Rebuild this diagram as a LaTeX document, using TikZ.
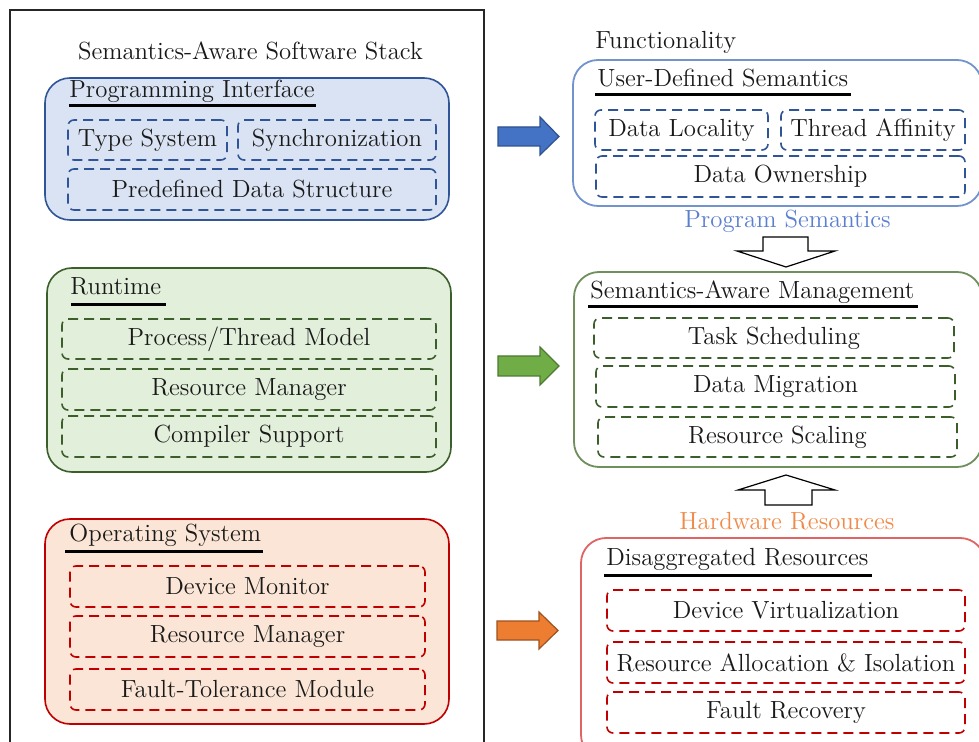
\documentclass[tikz,border=0pt]{standalone}
\definecolor{lbfill}{HTML}{DAE3F3}
\definecolor{lbdraw}{HTML}{2F5597}
\definecolor{lgfill}{HTML}{E2EFDA}
\definecolor{lgdraw}{HTML}{3B5E2B}
\definecolor{lrfill}{HTML}{FBE5D6}
\definecolor{lrdraw}{HTML}{C00000}
\definecolor{rbdraw}{HTML}{7393CC}
\definecolor{rgdraw}{HTML}{6F8F5C}
\definecolor{rrdraw}{HTML}{E06464}
\definecolor{semblue}{HTML}{5A7FD0}
\definecolor{hworange}{HTML}{F08A48}
\definecolor{arblue}{HTML}{4472C4}
\definecolor{arblueD}{HTML}{2F528F}
\definecolor{argreen}{HTML}{70AD47}
\definecolor{argreenD}{HTML}{4E7A31}
\definecolor{arorange}{HTML}{ED7D31}
\definecolor{arorangeD}{HTML}{9E5220}
\begin{document}
\begin{tikzpicture}[x=0.5pt,y=-0.5pt,
  every node/.style={font=\fontsize{12.4}{14.8}\selectfont, text=black!90},
  big/.style={draw, rounded corners=12.5pt, line width=0.8pt, inner sep=0pt},
  rbig/.style={draw, rounded corners=12.5pt, line width=0.9pt, inner sep=0pt, fill=white},
  dbox/.style={draw, dash pattern=on 5pt off 3pt, rounded corners=3pt, line width=0.8pt, inner sep=0pt, minimum height=20pt},
  ttl/.style={anchor=base west, inner sep=0pt},
  uline/.style={line width=1.5pt, black},
  blockarrow/.style={line width=0.6pt, line join=miter},
  hollow/.style={draw=black, fill=white, line width=0.6pt, line join=miter}]
\clip (0,0) rectangle (979,742);
\fill[white] (0,0) rectangle (979,742);

% outer stack frame
\draw[black!85, line width=1.2pt] (10,10) rectangle (484,780);
\node[anchor=base, inner sep=0pt] (stack) at (250.5,60) {Semantics-Aware Software Stack};

% ---------- left: Programming Interface ----------
\node[big, fill=lbfill, draw=lbdraw, minimum width=202pt, minimum height=71pt] (pi) at (247,149) {};
\node[ttl] (pit) at (69,98) {Programming Interface};
\draw[uline] (69,106) -- (316,106);
\node[dbox, draw=lbdraw, minimum width=79.5pt] (ts) at (147.5,140) {Type System};
\node[dbox, draw=lbdraw, minimum width=99pt] (sy) at (337,140) {Synchronization};
\node[dbox, draw=lbdraw, minimum width=184pt, minimum height=20.5pt] (pd) at (252,189.5) {Predefined Data Structure};

% ---------- left: Runtime ----------
\node[big, fill=lgfill, draw=lgdraw, minimum width=202pt, minimum height=102pt] (rt) at (249,370) {};
\node[ttl] (rtt) at (70,295) {Runtime};
\draw[uline] (71,305) -- (166,305);
\node[dbox, draw=lgdraw, minimum width=187pt] (pt) at (249,339) {Process/Thread Model};
\node[dbox, draw=lgdraw, minimum width=187pt, minimum height=20.5pt] (rm1) at (249,389.5) {Resource Manager};
\node[dbox, draw=lgdraw, minimum width=187pt, minimum height=20.5pt] (cs) at (249,436.5) {Compiler Support};

% ---------- left: Operating System ----------
\node[big, fill=lrfill, draw=lrdraw, minimum width=202pt, minimum height=102.5pt] (os) at (247,621.5) {};
\node[ttl] (ost) at (69,541.5) {Operating System};
\draw[uline] (65,551) -- (263,551);
\node[dbox, draw=lrdraw, minimum width=177.5pt, minimum height=20.5pt] (dm) at (247.5,586.5) {Device Monitor};
\node[dbox, draw=lrdraw, minimum width=177.5pt, minimum height=20.5pt] (rm2) at (247.5,636.5) {Resource Manager};
\node[dbox, draw=lrdraw, minimum width=177.5pt, minimum height=20.5pt] (ft) at (247.5,689.5) {Fault-Tolerance Module};

% ---------- block arrows ----------
\draw[blockarrow, fill=arblue, draw=arblueD]
  (498,127) -- (540,127) -- (540,117) -- (559,136.5) -- (540,155) -- (540,146) -- (498,146) -- cycle;
\draw[blockarrow, fill=argreen, draw=argreenD]
  (498,356) -- (540,356) -- (540,347) -- (559,366) -- (540,385) -- (540,376) -- (498,376) -- cycle;
\draw[blockarrow, fill=arorange, draw=arorangeD]
  (497,621) -- (539,621) -- (539,612) -- (558,630.5) -- (539,649) -- (539,640) -- (497,640) -- cycle;

% ---------- right: Functionality ----------
\node[ttl] (fn) at (595,48.5) {Functionality};
\node[rbig, draw=rbdraw, minimum width=204.5pt, minimum height=73pt] (ud) at (777.5,133) {};
\node[ttl] (udt) at (597,87) {User-Defined Semantics};
\draw[uline] (595,95) -- (851,95);
\node[dbox, draw=lbdraw, minimum width=86.5pt] (dl) at (681.5,130) {Data Locality};
\node[dbox, draw=lbdraw, minimum width=92pt] (ta) at (873,130) {Thread Affinity};
\node[dbox, draw=lbdraw, minimum width=184.5pt, minimum height=20.5pt] (do) at (780.5,176.5) {Data Ownership};

\node[anchor=base, inner sep=0pt, text=semblue] (ps) at (787.5,227.5) {Program Semantics};
\draw[hollow] (763,237) -- (808,237) -- (808,251) -- (835,251) -- (786,267) -- (737,251) -- (763,251) -- cycle;

% ---------- right: Semantics-Aware Management ----------
\node[rbig, draw=rgdraw, minimum width=204pt, minimum height=97.5pt] (sam) at (778,369.5) {};
\node[ttl] (samt) at (590,298.5) {Semantics-Aware Management};
\draw[uline] (588,307) -- (918,307);
\node[dbox, draw=lgdraw, minimum width=180pt] (tsch) at (774,338) {Task Scheduling};
\node[dbox, draw=lgdraw, minimum width=179.5pt, minimum height=20.5pt] (dmig) at (775.5,386.5) {Data Migration};
\node[dbox, draw=lgdraw, minimum width=179.5pt] (rsc) at (777.5,437) {Resource Scaling};

\draw[hollow] (765,505) -- (812,505) -- (812,490) -- (835,490) -- (786,475) -- (738,490) -- (765,490) -- cycle;
\node[anchor=base, inner sep=0pt, text=hworange] (hr) at (787,529.5) {Hardware Resources};

% ---------- right: Disaggregated Resources ----------
\node[rbig, draw=rrdraw, minimum width=202pt, minimum height=111pt] (dr) at (783,649) {};
\node[ttl] (drt) at (606,566) {Disaggregated Resources};
\draw[uline] (604,575) -- (872,575);
\node[dbox, draw=lrdraw, minimum width=179pt, minimum height=20.5pt] (dv) at (786,610.5) {Device Virtualization};
\node[dbox, draw=lrdraw, minimum width=179pt, minimum height=20.5pt] (ra) at (786,662.5) {Resource Allocation \& Isolation};
\node[dbox, draw=lrdraw, minimum width=179pt, minimum height=20.5pt] (fr) at (786,712.5) {Fault Recovery};
\end{tikzpicture}
\end{document}
